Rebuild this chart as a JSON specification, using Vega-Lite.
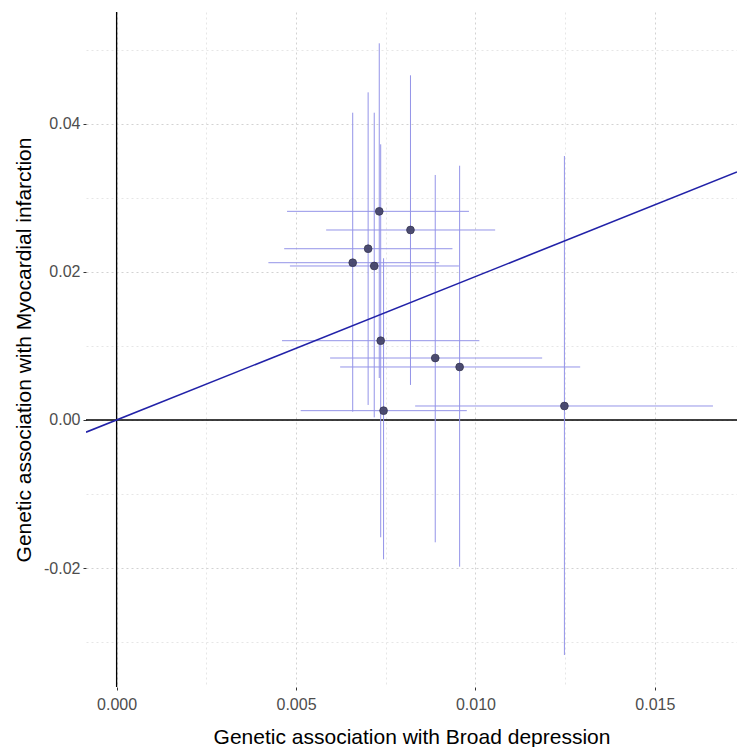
{
  "$schema": "https://vega.github.io/schema/vega-lite/v6.json",
  "autosize": "none",
  "padding": {"left": 86, "top": 12, "right": 0, "bottom": 60},
  "width": 651,
  "height": 675,
  "background": "white",
  "config": {
    "view": {"stroke": null},
    "axis": {
      "domain": false,
      "labelFont": "Liberation Sans",
      "titleFont": "Liberation Sans",
      "labelFontSize": 16,
      "labelColor": "#4D4D4D",
      "titleFontSize": 21,
      "titleFontWeight": "normal",
      "titleColor": "#000000",
      "tickSize": 3,
      "tickColor": "#333333",
      "gridDash": [2, 3],
      "labelOverlap": false,
      "labelPadding": 2
    }
  },
  "datasets": {
    "snps": [
      {"bx": 0.00732, "by": 0.02818, "bxlo": 0.00475, "bxhi": 0.00982, "bylo": 0.00567, "byhi": 0.05087},
      {"bx": 0.00819, "by": 0.02566, "bxlo": 0.00584, "bxhi": 0.01055, "bylo": 0.00473, "byhi": 0.04655},
      {"bx": 0.00701, "by": 0.02313, "bxlo": 0.00467, "bxhi": 0.00936, "bylo": 0.00203, "byhi": 0.04425},
      {"bx": 0.00658, "by": 0.02124, "bxlo": 0.00423, "bxhi": 0.00899, "bylo": 0.00112, "byhi": 0.0415},
      {"bx": 0.00718, "by": 0.0208, "bxlo": 0.00483, "bxhi": 0.00954, "bylo": 0.00036, "byhi": 0.0415},
      {"bx": 0.00736, "by": 0.01071, "bxlo": 0.00461, "bxhi": 0.01011, "bylo": -0.01584, "byhi": 0.03723},
      {"bx": 0.00888, "by": 0.00837, "bxlo": 0.00595, "bxhi": 0.01186, "bylo": -0.01652, "byhi": 0.03309},
      {"bx": 0.00956, "by": 0.00716, "bxlo": 0.00623, "bxhi": 0.01292, "bylo": -0.01981, "byhi": 0.03434},
      {"bx": 0.00744, "by": 0.00126, "bxlo": 0.00513, "bxhi": 0.00976, "bylo": -0.01881, "byhi": 0.02184},
      {"bx": 0.01248, "by": 0.00189, "bxlo": 0.00832, "bxhi": 0.01662, "bylo": -0.03174, "byhi": 0.03565}
    ],
    "fit": [
      {"fx": -0.000853, "fy": -0.00165},
      {"fx": 0.01729, "fy": 0.03349}
    ],
    "zero": [{"z": 0}]
  },
  "data": {"name": "snps"},
  "layer": [
    {
      "data": {"name": "zero"},
      "mark": {"type": "rule", "color": "#000000", "strokeWidth": 1.3},
      "encoding": {
        "y": {
          "field": "z", "type": "quantitative",
          "scale": {"domain": [-0.03606, 0.0551], "nice": false, "zero": false},
          "title": "Genetic association with Myocardial infarction",
          "axis": {
            "values": [-0.03, -0.02, -0.01, 0, 0.01, 0.02, 0.03, 0.04, 0.05],
            "format": ".2f",
            "labelExpr": "abs(datum.value*50 - round(datum.value*50)) < 0.001 ? replace(datum.label, '\u2212', '-') : ''",
            "tickOpacity": {"condition": {"test": "abs(datum.value*50 - round(datum.value*50)) < 0.001", "value": 1}, "value": 0},
            "gridColor": {"condition": {"test": "abs(datum.value*50 - round(datum.value*50)) < 0.001", "value": "#D2D2D2"}, "value": "#E6E6E6"},
            "labelPadding": 3,
            "titlePadding": 9
          }
        }
      }
    },
    {
      "data": {"name": "zero"},
      "mark": {"type": "rule", "color": "#000000", "strokeWidth": 1.3},
      "encoding": {
        "x": {
          "field": "z", "type": "quantitative",
          "scale": {"domain": [-0.000853, 0.01729], "nice": false, "zero": false},
          "title": "Genetic association with Broad depression",
          "axis": {
            "values": [0, 0.0025, 0.005, 0.0075, 0.01, 0.0125, 0.015],
            "format": ".3f",
            "labelExpr": "abs(datum.value*200 - round(datum.value*200)) < 0.001 ? datum.label : ''",
            "tickOpacity": {"condition": {"test": "abs(datum.value*200 - round(datum.value*200)) < 0.001", "value": 1}, "value": 0},
            "gridColor": {"condition": {"test": "abs(datum.value*200 - round(datum.value*200)) < 0.001", "value": "#D2D2D2"}, "value": "#E6E6E6"},
            "labelPadding": 6,
            "titlePadding": 14
          }
        }
      }
    },
    {
      "mark": {"type": "rule", "color": "#9494E8", "strokeWidth": 1, "clip": true},
      "encoding": {
        "x": {"field": "bxlo", "type": "quantitative", "title": "Genetic association with Broad depression"},
        "x2": {"field": "bxhi"},
        "y": {"field": "by", "type": "quantitative", "title": "Genetic association with Myocardial infarction"}
      }
    },
    {
      "mark": {"type": "rule", "color": "#9494E8", "strokeWidth": 1, "clip": true},
      "encoding": {
        "x": {"field": "bx", "type": "quantitative", "title": "Genetic association with Broad depression"},
        "y": {"field": "bylo", "type": "quantitative", "title": "Genetic association with Myocardial infarction"},
        "y2": {"field": "byhi"}
      }
    },
    {
      "data": {"name": "fit"},
      "mark": {"type": "line", "color": "#2222A8", "strokeWidth": 1.6, "clip": true},
      "encoding": {
        "x": {"field": "fx", "type": "quantitative", "title": "Genetic association with Broad depression"},
        "y": {"field": "fy", "type": "quantitative", "title": "Genetic association with Myocardial infarction"}
      }
    },
    {
      "mark": {"type": "point", "filled": true, "shape": "circle", "size": 60, "color": "#44446A", "opacity": 0.95, "stroke": "#2E2E4A", "strokeWidth": 0.8},
      "encoding": {
        "x": {"field": "bx", "type": "quantitative", "title": "Genetic association with Broad depression"},
        "y": {"field": "by", "type": "quantitative", "title": "Genetic association with Myocardial infarction"}
      }
    }
  ]
}
